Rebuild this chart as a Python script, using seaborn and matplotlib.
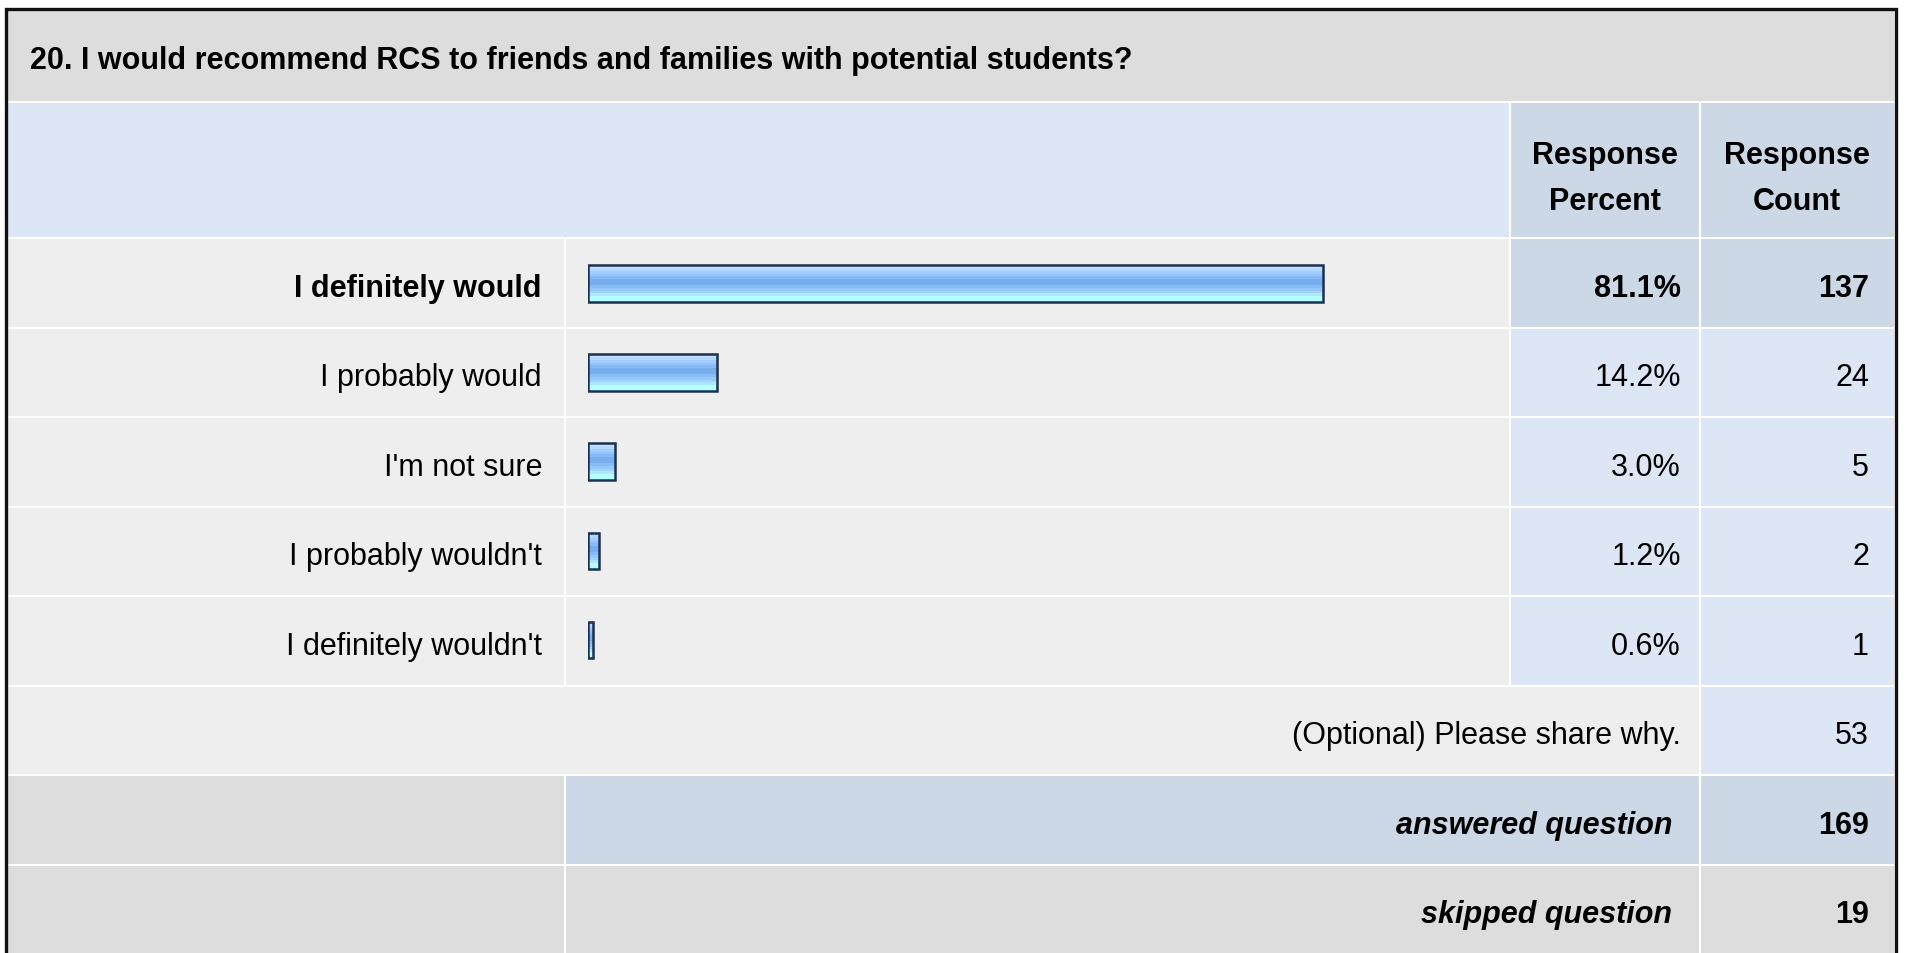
# Survey result table: question 20 (RCS recommendation)
# Rendered as one figure: table cells drawn as patches, bars via seaborn

import numpy as np
import pandas as pd
import matplotlib
matplotlib.use('Agg')
import matplotlib.pyplot as plt
from matplotlib.patches import Rectangle
import seaborn as sns

# --- data ---
question = "20. I would recommend RCS to friends and families with potential students?"
answers = ["I definitely would", "I probably would", "I'm not sure",
           "I probably wouldn't", "I definitely wouldn't"]
percents = [81.1, 14.2, 3.0, 1.2, 0.6]
counts = [137, 24, 5, 2, 1]
optional_label = "(Optional) Please share why."
optional_count = 53
answered_count = 169
skipped_count = 19

df = pd.DataFrame({'answer': answers, 'percent': percents, 'count': counts})

# --- colours ---
GREY_DARK = '#dddddd'
GREY_LIGHT = '#eeeeee'
BLUE_LIGHT = '#dce6f4'
BLUE_MID = '#ccd8e6'
NAVY = '#1c3050'

sns.set_style('white')
plt.rcParams['font.family'] = ['Liberation Sans', 'DejaVu Sans']
plt.rcParams['text.color'] = 'black'

W, H = 1907, 954
fig = plt.figure(figsize=(W / 100, H / 100), dpi=100)
fig.patch.set_facecolor('white')

# background axes in pixel units (y down)
ax = fig.add_axes([0, 0, 1, 1])
ax.set_xlim(0, W)
ax.set_ylim(H, 0)
ax.axis('off')


def cell(x0, x1, y0, y1, color):
    ax.add_patch(Rectangle((x0, y0), x1 - x0, y1 - y0, facecolor=color, lw=0, zorder=1))


def label(x, y, s, **kw):
    # small downward shift so text sits like html baseline text
    ax.text(x, y + 5, s, fontsize=FS, va='center', color='black', zorder=3, **kw)


# column edges
X_L, X_LAB, X_BAR, X_PCT, X_R = 8, 565, 1510, 1700, 1894
ROW0, PITCH, ROW_H = 240, 89.5, 87.5
FS = 22

# title band
cell(X_L, X_R, 12, 102, GREY_DARK)
label(30, 56, question, fontweight='bold', ha='left')

# header band
cell(X_L, X_BAR - 1, 104, 238, BLUE_LIGHT)
cell(X_BAR + 1, X_PCT - 1, 104, 238, BLUE_MID)
cell(X_PCT + 1, X_R, 104, 238, BLUE_MID)
for xc, words in [((X_BAR + X_PCT) / 2, ("Response", "Percent")),
                  ((X_PCT + X_R) / 2, ("Response", "Count"))]:
    label(xc, 151, words[0], fontweight='bold', ha='center')
    label(xc, 197, words[1], fontweight='bold', ha='center')

# answer rows
for i, row in df.iterrows():
    y0 = ROW0 + i * PITCH
    y1 = y0 + ROW_H
    yc = (y0 + y1) / 2
    val_color = BLUE_MID if i == 0 else BLUE_LIGHT
    weight = 'bold' if i == 0 else 'normal'
    cell(X_L, X_LAB - 1, y0, y1, GREY_LIGHT)
    cell(X_LAB + 1, X_BAR - 1, y0, y1, GREY_LIGHT)
    cell(X_BAR + 1, X_PCT - 1, y0, y1, val_color)
    cell(X_PCT + 1, X_R, y0, y1, val_color)
    label(542, yc, row['answer'], fontweight=weight, ha='right')
    label(1681, yc, f"{row['percent']:.1f}%", fontweight=weight, ha='right')
    label(1869, yc, str(row['count']), fontweight=weight, ha='right')

# optional comment row
y0 = ROW0 + 5 * PITCH
y1 = y0 + ROW_H
cell(X_L, X_PCT - 1, y0, y1, GREY_LIGHT)
cell(X_PCT + 1, X_R, y0, y1, BLUE_LIGHT)
label(1681, (y0 + y1) / 2, optional_label, ha='right')
label(1869, (y0 + y1) / 2, str(optional_count), ha='right')

# answered / skipped rows
for k, (txt, num, mid_color) in enumerate([("answered question", answered_count, BLUE_MID),
                                           ("skipped question", skipped_count, GREY_DARK)]):
    y0 = ROW0 + (6 + k) * PITCH
    y1 = min(y0 + ROW_H, H)
    yc = (y0 + y0 + ROW_H) / 2
    cell(X_L, X_LAB - 1, y0, y1, GREY_DARK)
    cell(X_LAB + 1, X_PCT - 1, y0, y1, mid_color)
    cell(X_PCT + 1, X_R, y0, y1, mid_color)
    label(1672, yc, txt, fontweight='bold', style='italic', ha='right')
    label(1869, yc, str(num), fontweight='bold', ha='right')

# outer border
ax.plot([6, 6, 1896, 1896], [H, 10, 10, H], color='#111111', lw=2.4,
        solid_joinstyle='miter', zorder=4)

# --- bars ---
bar_left, bar_full = 588, 906
bar_top, bar_bottom = ROW0, ROW0 + 5 * PITCH - 2
axb = fig.add_axes([bar_left / W, 1 - bar_bottom / H, bar_full / W, (bar_bottom - bar_top) / H])
sns.barplot(data=df, x='percent', y='answer', orient='h', width=0.41,
            color='#7ab0f0', ax=axb, zorder=2)
axb.set_xlim(0, 100)
ylim = axb.get_ylim()
axb.axis('off')
axb.patch.set_alpha(0)

# horizontal stripes like the original glossy bar image
stripes = ['#c6e0ff', '#b4d8ff', '#a2ceff', '#94c4ff', '#86baf6', '#78aeee',
           '#78aeee', '#86bcf8', '#94c8ff', '#a0d4ff', '#aee6ff', '#b4ffff', '#b4ffff']
grad = np.array([matplotlib.colors.to_rgb(c) for c in stripes])[:, None, :]
for p in axb.patches:
    x, y = p.get_x(), p.get_y()
    w, h = p.get_width(), p.get_height()
    axb.imshow(grad, extent=(x, x + w, y + h, y), aspect='auto',
               interpolation='nearest', zorder=2)
    p.set_facecolor('none')
    p.set_edgecolor(NAVY)
    p.set_linewidth(1.8)
    p.set_zorder(3)
axb.set_xlim(0, 100)
axb.set_ylim(ylim)

fig.savefig('out.png', dpi=100, facecolor='white')
